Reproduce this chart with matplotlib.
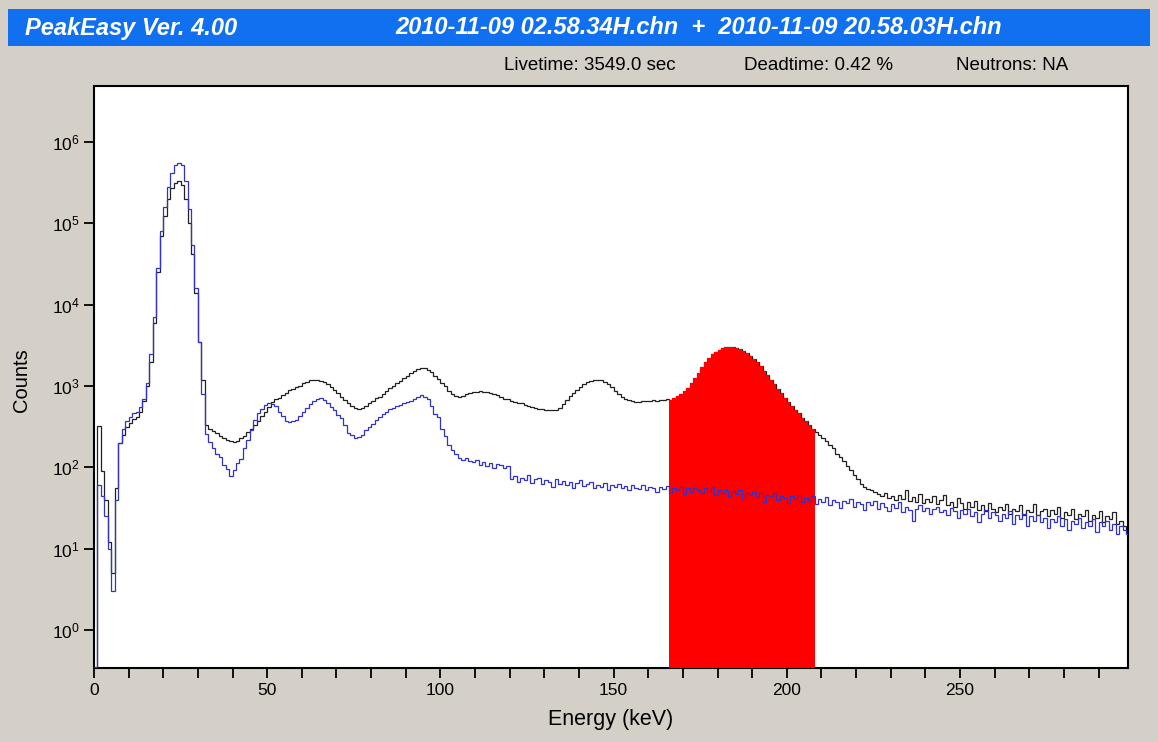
import numpy as np
import matplotlib.pyplot as plt
from matplotlib.patches import Rectangle

plt.rcParams['font.family'] = ['Liberation Sans', 'DejaVu Sans']
plt.rcParams['mathtext.default'] = 'regular'

# counts per 1 keV channel, channel i covers [i, i+1) keV
# sum spectrum (black)
sum_counts = [
    0.3, 320, 90, 40, 12, 5, 55, 200, 250, 310,
    350, 390, 420, 480, 650, 1000, 2000, 6000, 25000, 70000,
    125000, 200000, 270000, 315000, 330000, 295000, 200000, 100000, 42000, 14000,
    3500, 1200, 330, 300, 282, 262, 246, 228, 216, 209,
    205, 214, 227, 244, 272, 300, 333, 372, 425, 482,
    560, 636, 684, 716, 774, 826, 884, 918, 968, 1015,
    1085, 1124, 1186, 1198, 1194, 1158, 1126, 1058, 986, 898,
    826, 738, 674, 616, 574, 542, 528, 544, 568, 622,
    656, 704, 738, 806, 868, 934, 996, 1084, 1158, 1254,
    1346, 1436, 1514, 1604, 1658, 1652, 1576, 1484, 1346, 1224,
    1096, 1004, 876, 804, 758, 744, 762, 796, 826, 838,
    852, 864, 846, 842, 818, 804, 776, 742, 702, 684,
    656, 644, 618, 612, 588, 572, 556, 544, 528, 522,
    508, 504, 512, 514, 542, 604, 676, 758, 824, 896,
    984, 1046, 1124, 1168, 1204, 1196, 1172, 1118, 1054, 962,
    872, 788, 734, 688, 672, 648, 642, 646, 652, 662,
    648, 672, 658, 682, 668, 690, 680, 720, 760, 800,
    860, 950, 1080, 1250, 1450, 1700, 1950, 2200, 2450, 2650,
    2800, 2920, 3000, 3030, 3020, 2950, 2850, 2700, 2520, 2330,
    2150, 1950, 1750, 1550, 1360, 1200, 1060, 930, 820, 720,
    640, 570, 510, 460, 410, 370, 330, 300, 270, 252,
    228, 212, 188, 172, 148, 135, 121, 104, 93, 80,
    71, 62, 57, 54, 52, 50, 47, 44, 48, 42,
    45, 40, 46, 41, 52, 39, 43, 38, 47, 36,
    41, 37, 44, 35, 40, 46, 34, 38, 33, 42,
    36, 31, 37, 33, 39, 30, 34, 29, 36, 31,
    28, 33, 30, 35, 27, 31, 29, 34, 26, 30,
    28, 35, 26, 29, 31, 25, 30, 27, 33, 24,
    28, 26, 31, 23, 27, 25, 30, 22, 26, 24,
    29, 21, 25, 23, 28, 20, 22, 19, 17,
]

# background spectrum (blue)
bkg_counts = [
    0.35, 60, 45, 25, 10, 3, 40, 200, 300, 370,
    420, 470, 480, 560, 700, 1100, 2500, 7000, 28000, 80000,
    160000, 280000, 420000, 520000, 560000, 520000, 330000, 150000, 55000, 16000,
    3500, 800, 260, 205, 172, 148, 134, 108, 96, 78,
    94, 112, 128, 172, 218, 292, 378, 462, 528, 592,
    622, 598, 566, 476, 424, 368, 358, 374, 388, 424,
    476, 534, 596, 664, 702, 722, 676, 624, 556, 504,
    438, 402, 332, 268, 252, 228, 236, 252, 292, 312,
    344, 382, 418, 452, 478, 522, 536, 572, 588, 622,
    638, 664, 696, 724, 778, 742, 686, 564, 452, 420,
    300, 240, 188, 162, 146, 132, 124, 131, 119, 116,
    125, 108, 118, 104, 112, 99, 110, 106, 97, 104,
    72, 78, 66, 74, 69, 80, 64, 71, 75, 62,
    70, 66, 58, 72, 63, 68, 60, 66, 55, 64,
    70, 59, 62, 66, 56, 61, 58, 64, 53, 60,
    57, 62, 55, 59, 52, 61, 56, 54, 60, 53,
    58, 55, 50, 57, 54, 59, 48, 56, 52, 58,
    47, 55, 50, 56, 53, 49, 55, 51, 57, 46,
    53, 48, 52, 44, 51, 47, 53, 41, 49, 46,
    50, 43, 48, 38, 46, 44, 49, 40, 45, 42,
    36, 44, 41, 46, 37, 42, 39, 44, 35, 41,
    38, 43, 34, 40, 37, 32, 39, 36, 41, 33,
    38, 35, 30, 37, 34, 39, 31, 36, 33, 29,
    35, 32, 37, 28, 33, 30, 22, 31, 34, 29,
    32, 27, 31, 33, 28, 30, 26, 32, 29, 24,
    30, 27, 31, 25, 28, 21, 27, 30, 24, 28,
    26, 22, 27, 24, 29, 20, 26, 23, 27, 19,
    25, 22, 26, 21, 24, 18, 23, 21, 25, 19,
    23, 17, 22, 20, 24, 18, 21, 19, 23, 16,
    21, 19, 22, 17, 20, 15, 19, 17, 15,
]

roi_start, roi_end = 166, 208  # keV, red region of interest

title_left = "PeakEasy Ver. 4.00"
title_files = "2010-11-09 02.58.34H.chn  +  2010-11-09 20.58.03H.chn"
info_texts = ["Livetime: 3549.0 sec", "Deadtime: 0.42 %", "Neutrons: NA"]

edges = np.arange(len(sum_counts) + 1)
sum_counts = np.array(sum_counts, dtype=float)
bkg_counts = np.array(bkg_counts, dtype=float)

fig = plt.figure(figsize=(11.58, 7.42), dpi=100, facecolor='#d4d0c8')

# blue title bar
fig.patches.append(Rectangle((8 / 1158, 1 - 46 / 742), 1142 / 1158, 37 / 742,
                             transform=fig.transFigure, facecolor='#1170f0',
                             edgecolor='none', zorder=0))
fig.text(25 / 1158, 1 - 28 / 742, title_left, color='white', fontsize=17,
         fontweight='bold', fontstyle='italic', va='center', ha='left')
fig.text(699 / 1158, 1 - 28 / 742, title_files, color='white', fontsize=17,
         fontweight='bold', fontstyle='italic', va='center', ha='center')

for txt, xc in zip(info_texts, [590, 818, 1012]):
    fig.text(xc / 1158, 1 - 66 / 742, txt, fontsize=13.5, ha='center', va='center')

ax = fig.add_axes([94 / 1158, 74.3 / 742, 1034 / 1158, 581.7 / 742])
ax.set_facecolor('white')

ax.stairs(sum_counts, edges, baseline=None, color='#202020', linewidth=0.9, zorder=2)
ax.stairs(sum_counts[roi_start:roi_end], edges[roi_start:roi_end + 1],
          baseline=1e-3, fill=True, color='#ff0000', zorder=3)
ax.stairs(bkg_counts, edges, baseline=None, color='#3232c8', linewidth=0.9, zorder=4)

ax.set_yscale('log')
ax.set_xlim(0, 298.5)
ax.set_ylim(0.344, 4.9e6)

ax.set_xticks(np.arange(0, 300, 50))
ax.set_xticks(np.arange(0, 300, 10), minor=True)
ax.set_yticks([1, 10, 100, 1e3, 1e4, 1e5, 1e6])
ax.yaxis.set_minor_locator(plt.NullLocator())
ax.tick_params(axis='both', which='both', direction='out', length=7, width=1.3,
               labelsize=12.5)
ax.tick_params(axis='x', pad=4)

for sp in ax.spines.values():
    sp.set_linewidth(1.5)
    sp.set_color('black')

ax.set_xlabel("Energy (keV)", fontsize=15.5, labelpad=8)
fig.text(22 / 1158, 1 - 380 / 742, "Counts", rotation=90, fontsize=14.5,
         ha='center', va='center')

fig.savefig('out.png', dpi=100, facecolor=fig.get_facecolor())
